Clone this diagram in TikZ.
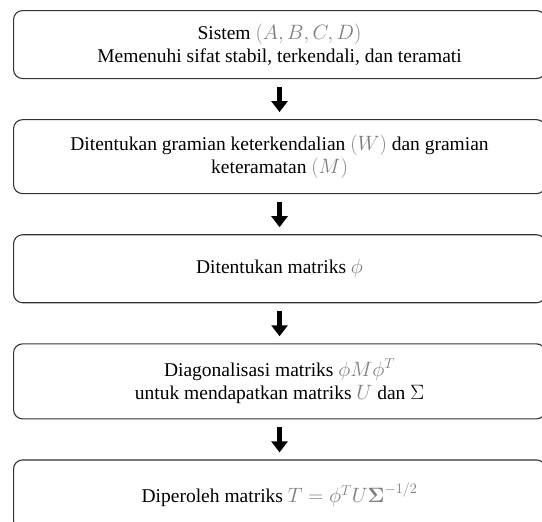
\documentclass[tikz,border=0pt]{standalone}
\usepackage{fontspec}
\setmainfont{Liberation Serif}
\usepackage{amsmath}
\usetikzlibrary{positioning,arrows.meta}
\definecolor{mathgray}{RGB}{125,125,125}
\newcommand{\gm}[1]{{\color{mathgray}$#1$}}

\begin{document}
\begin{tikzpicture}[x=1pt,y=1pt,node distance=40pt,
        box/.style={draw=black!80,line width=1.1pt,rounded corners=9pt,
            minimum width=532pt,minimum height=68pt,align=center,
            font=\fontsize{19.5}{23}\selectfont},
        flow/.style={-{Triangle[width=16pt,length=11pt]},line width=5pt,
            shorten <=8pt,shorten >=7pt}]
        \useasboundingbox (0,0) rectangle (542,-522);
        \clip (0,0) rectangle (542,-522);
        \node[box,anchor=north west] (sys) at (13,-10)
            {Sistem \gm{(A,B,C,D)}\\Memenuhi sifat stabil, terkendali, dan teramati};
        \node[box,minimum height=74pt] (gram) [below=of sys]
            {Ditentukan gramian keterkendalian \gm{(W)} dan gramian\\keteramatan \gm{(M)}};
        \node[box] (phi) [below=of gram] {Ditentukan matriks \gm{\phi}};
        \node[box,minimum height=75pt] (diag) [below=of phi]
            {Diagonalisasi matriks \gm{\phi M\phi^T}\\untuk mendapatkan matriks \gm{U} dan $\Sigma$};
        \node[box,minimum height=70pt] (trans) [below=of diag]
            {Diperoleh matriks \gm{T=\phi^T U\boldsymbol{\Sigma}^{-1/2}}};
        \draw[flow] (sys) -- (gram);
        \draw[flow] (gram) -- (phi);
        \draw[flow] (phi) -- (diag);
        \draw[flow] (diag) -- (trans);
    \end{tikzpicture}
\end{document}
